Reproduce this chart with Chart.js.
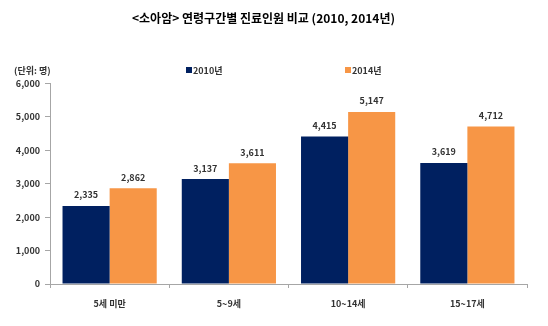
<!DOCTYPE html>
<html>
<head>
<meta charset="utf-8">
<script src="https://cdn.jsdelivr.net/npm/chart.js@4"></script>
<style>
    html, body { margin: 0; padding: 0; background: #ffffff; }
    #wrap { width: 548px; height: 326px; }
</style>
</head>
<body>
<div id="wrap"><canvas id="grafica" width="548" height="326"></canvas></div>
<script>
const categorias = ["5세 미만", "5~9세", "10~14세", "15~17세"];
const valores2010 = [2335, 3137, 4415, 3619];
const valores2014 = [2862, 3611, 5147, 4712];
const etiquetasSerie = ["2010년", "2014년"];
const coloresSerie = ["#002060", "#f79646"];

const fuente = "'Noto Sans CJK KR', 'Noto Sans', sans-serif";

// data labels above each bar
const etiquetasBarras = {
    id: "etiquetasBarras",
    afterDatasetsDraw(chart) {
        const ctx = chart.ctx;
        ctx.save();
        ctx.font = "bold 9px " + fuente;
        ctx.fillStyle = "#333333";
        ctx.textAlign = "center";
        ctx.textBaseline = "middle";
        chart.data.datasets.forEach((ds, i) => {
            chart.getDatasetMeta(i).data.forEach((bar, j) => {
                ctx.fillText(ds.data[j].toLocaleString("en-US"), bar.x, bar.y - 11);
            });
        });
        ctx.restore();
    }
};

// legend + unit label
const leyenda = {
    id: "leyenda",
    afterDraw(chart) {
        const ctx = chart.ctx;
        const area = chart.chartArea;
        ctx.save();
        ctx.textBaseline = "middle";
        ctx.font = "bold 9px " + fuente;
        ctx.fillStyle = "#333333";
        ctx.textAlign = "left";
        ctx.fillText("(단위: 명)", 14, 71);

        const posiciones = [area.left + 136, area.left + 295];
        etiquetasSerie.forEach((txt, i) => {
            ctx.fillStyle = coloresSerie[i];
            ctx.fillRect(posiciones[i], 67, 6, 6);
            ctx.fillStyle = "#333333";
            ctx.fillText(txt, posiciones[i] + 7, 71);
        });
        ctx.restore();
    }
};

new Chart(document.getElementById("grafica"), {
    type: "bar",
    data: {
        labels: categorias,
        datasets: [
            {
                label: etiquetasSerie[0],
                data: valores2010,
                backgroundColor: coloresSerie[0],
                categoryPercentage: 0.79,
                barPercentage: 1
            },
            {
                label: etiquetasSerie[1],
                data: valores2014,
                backgroundColor: coloresSerie[1],
                categoryPercentage: 0.79,
                barPercentage: 1
            }
        ]
    },
    options: {
        responsive: false,
        animation: false,
        layout: {
            padding: { left: 0, right: 21, top: 0, bottom: 0 }
        },
        plugins: {
            legend: { display: false },
            tooltip: { enabled: false },
            title: {
                display: true,
                text: "<소아암> 연령구간별 진료인원 비교 (2010, 2014년)",
                color: "#000000",
                font: { family: fuente, size: 12, weight: "bold" },
                padding: { top: 11, bottom: 58 }
            }
        },
        scales: {
            x: {
                grid: {
                    offset: true,
                    drawOnChartArea: false,
                    tickLength: 4,
                    color: "#a6a6a6"
                },
                border: { color: "#a6a6a6" },
                ticks: {
                    color: "#333333",
                    padding: 10,
                    font: { family: fuente, size: 9, weight: "bold" }
                },
                afterFit(scale) {
                    scale.height = 42;
                }
            },
            y: {
                min: 0,
                max: 6000,
                ticks: {
                    stepSize: 1000,
                    color: "#333333",
                    padding: 5,
                    font: { family: fuente, size: 9, weight: "bold" },
                    callback: (v) => v.toLocaleString("en-US")
                },
                grid: {
                    drawOnChartArea: false,
                    tickLength: 5,
                    color: "#a6a6a6"
                },
                border: { color: "#a6a6a6" },
                afterFit(scale) {
                    scale.width = 50;
                }
            }
        }
    },
    plugins: [etiquetasBarras, leyenda]
});
</script>
</body>
</html>
